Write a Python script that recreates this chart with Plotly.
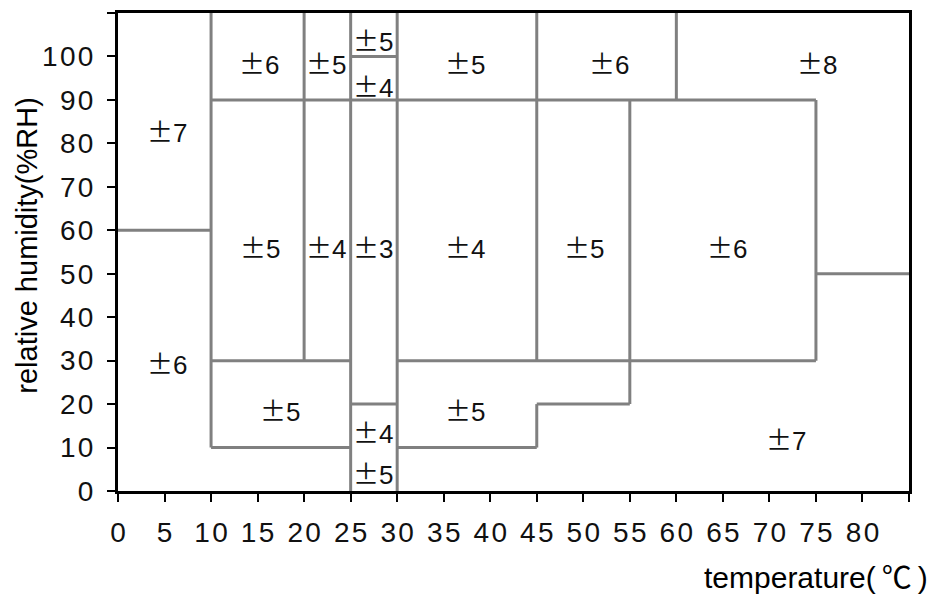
import plotly.graph_objects as go

# Region boundaries (temperature °C, relative humidity %RH)
v_x = [10, 20, 25, 30, 45, 45, 55, 60, 75]
v_y0 = [10, 30, 0, 0, 30, 10, 20, 90, 30]
v_y1 = [110, 110, 110, 110, 110, 20, 90, 110, 90]

h_y = [60, 90, 100, 30, 30, 20, 20, 10, 10, 50]
h_x0 = [0, 10, 25, 10, 30, 25, 45, 10, 30, 75]
h_x1 = [10, 75, 30, 25, 75, 30, 55, 25, 45, 85]

# Accuracy labels (±%RH) and their positions
lab_val = [7, 6, 6, 5, 5, 4, 5, 6, 8,
           5, 4, 3, 4, 5, 6,
           5, 5, 4, 5, 7]
lab_x = [5.3, 5.3, 15.2, 22.4, 27.4, 27.4, 37.3, 52.8, 75.1,
         15.3, 22.4, 27.4, 37.3, 50.1, 65.4,
         17.4, 37.3, 27.4, 27.4, 71.8]
lab_y = [83.0, 29.5, 98.6, 98.6, 103.8, 93.3, 98.6, 98.6, 98.6,
         56.3, 56.3, 56.3, 56.3, 56.3, 56.3,
         18.8, 18.8, 13.7, 4.3, 12.1]

x_ticks = list(range(0, 90, 5))
y_ticks = list(range(0, 120, 10))

HS = "\u200a"  # hair space to mimic the wide digit spacing


def spaced(v):
    return HS.join(str(v))


x_ticktext = [spaced(v) if v <= 80 else "" for v in x_ticks]
y_ticktext = [spaced(v) if v <= 100 else "" for v in y_ticks]

xs, ys = [], []
for x, a, b in zip(v_x, v_y0, v_y1):
    xs += [x, x, None]
    ys += [a, b, None]
for y, a, b in zip(h_y, h_x0, h_x1):
    xs += [a, b, None]
    ys += [y, y, None]

fig = go.Figure()
fig.add_trace(go.Scatter(x=xs, y=ys, mode="lines",
                         line=dict(color="#808080", width=3),
                         hoverinfo="skip", showlegend=False))

for v, x, y in zip(lab_val, lab_x, lab_y):
    fig.add_annotation(
        x=x, y=y, xref="x", yref="y", showarrow=False,
        text="<span style='font-family:Noto Sans CJK JP'>±</span>" + str(v),
        font=dict(family="Liberation Sans, Arial, sans-serif", size=26, color="#111111"),
    )

fig.add_annotation(
    x=-0.138, y=0.515, xref="paper", yref="paper", showarrow=False,
    text="relative humidity(%RH)", textangle=-90,
    font=dict(family="Liberation Sans, Arial, sans-serif", size=29, color="#000000"),
)
fig.add_annotation(
    x=1.0265, y=-0.225, xref="paper", yref="paper", showarrow=False,
    xanchor="right",
    text="temperature(<span style='font-family:Noto Sans CJK JP'>\u2009℃\u2009</span>)",
    font=dict(family="Liberation Sans, Arial, sans-serif", size=30, color="#000000"),
)

axis_common = dict(
    showgrid=False, zeroline=False, showline=True, mirror=True,
    linecolor="black", linewidth=3,
    ticks="outside", ticklen=8, tickwidth=2, tickcolor="black",
    tickfont=dict(family="Liberation Sans Narrow, Liberation Sans, Arial, sans-serif",
                  size=28, color="#111111"),
)

fig.update_layout(
    width=933, height=604,
    margin=dict(l=118, r=24, t=10, b=113),
    paper_bgcolor="white", plot_bgcolor="white",
    xaxis=dict(range=[0, 85], tickvals=x_ticks, ticktext=x_ticktext,
               ticklabelstandoff=6, **axis_common),
    yaxis=dict(range=[0, 110], tickvals=y_ticks, ticktext=y_ticktext,
               ticklabelstandoff=8, **axis_common),
)

fig.write_html("out.html", config={"displayModeBar": False},
               post_script="document.body.style.margin='0';")
